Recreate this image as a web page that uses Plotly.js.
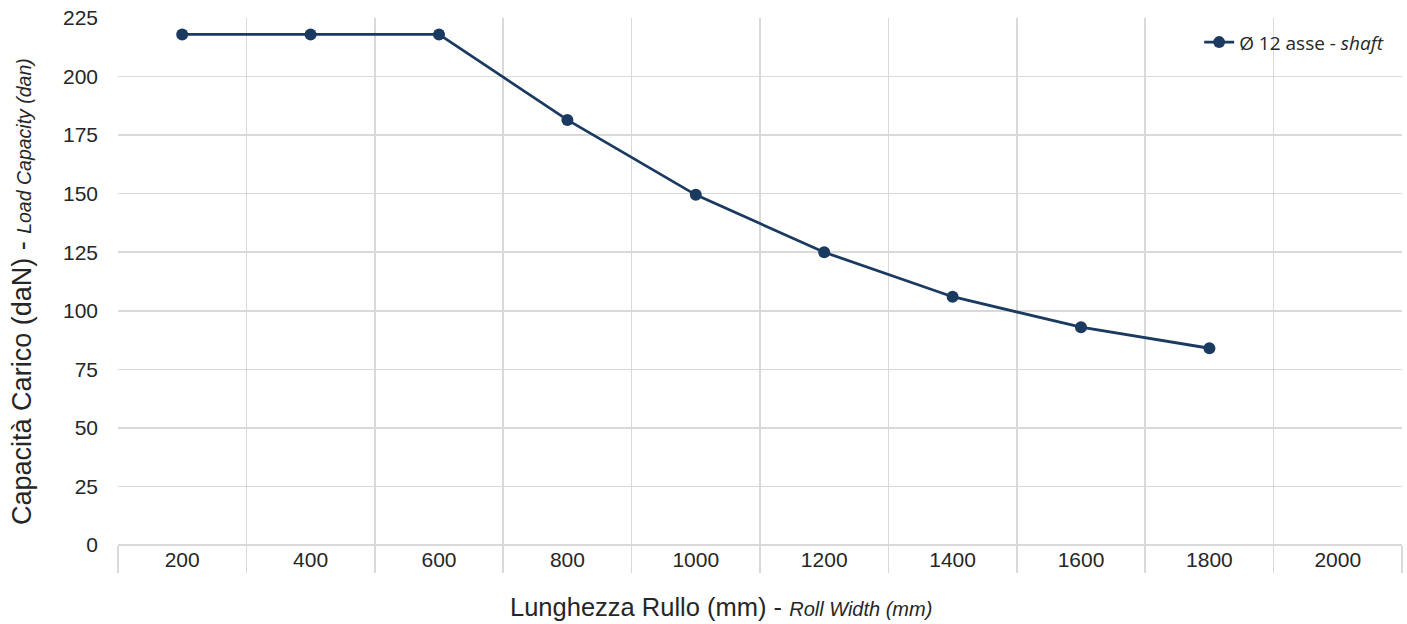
<!DOCTYPE html>
<html>
<head>
<meta charset="utf-8">
<script src="https://cdn.plot.ly/plotly-3.0.1.min.js"></script>
<style>html,body{margin:0;padding:0;background:#fff;}#chart{width:1407px;height:624px;}</style>
</head>
<body>
<div id="chart"></div>
<script>
var categories = ['200','400','600','800','1000','1200','1400','1600','1800','2000'];
var capacity = [218, 218, 218, 181.5, 149.5, 125, 106, 93, 84, null];
var seriesName = 'Ø 12 asse - <i>shaft</i>';
var yTicks = [0,25,50,75,100,125,150,175,200,225];
var xTitle = 'Lunghezza Rullo (mm) - <i><span style="font-size:20px">Roll Width (mm)</span></i>';
var yTitle = 'Capacità Carico (daN) - <i><span style="font-size:19.5px">Load Capacity (dan)</span></i>';

var trace = {
  x: categories, y: capacity, type: 'scatter', mode: 'lines+markers',
  name: seriesName,
  line: {color: '#1b3a60', width: 2.8},
  marker: {color: '#1b3a60', size: 12},
  connectgaps: false
};
var FONT = 'Liberation Sans, Arial, sans-serif';
var layout = {
  width: 1407, height: 624,
  margin: {l: 118, r: 5, t: 18, b: 79},
  paper_bgcolor: '#ffffff', plot_bgcolor: '#ffffff',
  font: {family: FONT, color: '#262626'},
  xaxis: {
    type: 'category', categoryarray: categories, range: [-0.5, 9.5],
    tickson: 'boundaries', ticks: 'outside', ticklen: 27, tickcolor: '#d9d9d9', tickwidth: 1.5,
    ticklabelstandoff: 0,
    showgrid: true, gridcolor: '#d9d9d9', gridwidth: 1.5,
    showline: false, zeroline: false,
    tickfont: {size: 21, color: '#262626', family: FONT}
  },
  yaxis: {
    range: [0, 225], tickvals: yTicks, ticks: '', ticklabelstandoff: 19,
    showgrid: true, gridcolor: '#d9d9d9', gridwidth: 1.5,
    zeroline: true, zerolinecolor: '#d9d9d9', zerolinewidth: 1.5,
    showline: false,
    tickfont: {size: 21, color: '#262626', family: FONT}
  },
  annotations: [
    {text: xTitle, xref: 'paper', yref: 'paper', x: 0.4696, y: -0.1176, xanchor: 'center', yanchor: 'middle',
     showarrow: false, font: {size: 25.5, color: '#262626', family: FONT}},
    {text: yTitle, xref: 'paper', yref: 'paper', x: -0.0748, y: 0.482, xanchor: 'center', yanchor: 'middle',
     textangle: -90, showarrow: false, font: {size: 27, color: '#262626', family: FONT}}
  ],
  showlegend: true,
  legend: {x: 0.99, xanchor: 'right', y: 0.99, yanchor: 'top', bgcolor: 'rgba(255,255,255,0)',
    font: {size: 19, family: 'Open Sans, sans-serif', color: '#262626'}}
};
Plotly.newPlot('chart', [trace], layout, {displayModeBar: false, staticPlot: true});
</script>
</body>
</html>
